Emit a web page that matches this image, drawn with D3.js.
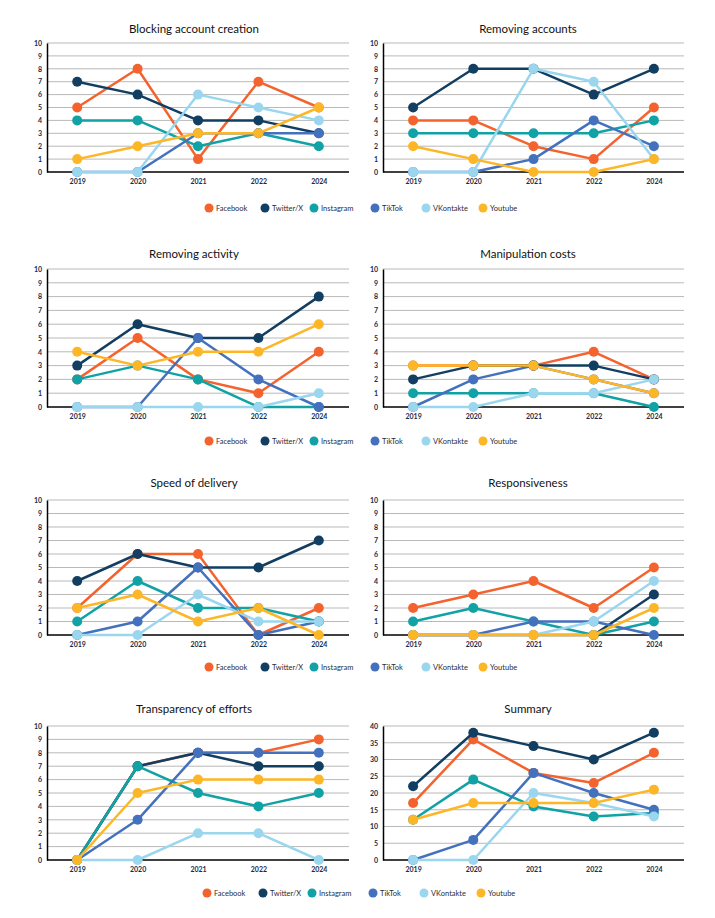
<!DOCTYPE html>
<html>
<head>
<meta charset="utf-8">
<script src="https://cdn.jsdelivr.net/npm/d3@7"></script>
<style>
  body { margin: 0; background: #fff; }
  svg { display: block; font-family: Lato, "Open Sans", sans-serif; }
</style>
</head>
<body>
<svg id="chart" width="715" height="918"></svg>
<script>
const years = ["2019", "2020", "2021", "2022", "2024"];
const platforms = ["Facebook", "Twitter/X", "Instagram", "TikTok", "VKontakte", "Youtube"];
const colors = ["#F4632E", "#123E61", "#11A2A5", "#4471BD", "#9AD7EF", "#FDB626"];

const titles = [
  "Blocking account creation", "Removing accounts",
  "Removing activity", "Manipulation costs",
  "Speed of delivery", "Responsiveness",
  "Transparency of efforts", "Summary"
];

// values per panel, one row per platform (same order as platforms)
const blocking = [[5, 8, 1, 7, 5], [7, 6, 4, 4, 3], [4, 4, 2, 3, 2], [0, 0, 3, 3, 3], [0, 0, 6, 5, 4], [1, 2, 3, 3, 5]];
const removingAccounts = [[4, 4, 2, 1, 5], [5, 8, 8, 6, 8], [3, 3, 3, 3, 4], [0, 0, 1, 4, 2], [0, 0, 8, 7, 1], [2, 1, 0, 0, 1]];
const removingActivity = [[2, 5, 2, 1, 4], [3, 6, 5, 5, 8], [2, 3, 2, 0, 0], [0, 0, 5, 2, 0], [0, 0, 0, 0, 1], [4, 3, 4, 4, 6]];
const manipulationCosts = [[3, 3, 3, 4, 2], [2, 3, 3, 3, 2], [1, 1, 1, 1, 0], [0, 2, 3, 2, 1], [0, 0, 1, 1, 2], [3, 3, 3, 2, 1]];
const speedOfDelivery = [[2, 6, 6, 0, 2], [4, 6, 5, 5, 7], [1, 4, 2, 2, 1], [0, 1, 5, 0, 1], [0, 0, 3, 1, 1], [2, 3, 1, 2, 0]];
const responsiveness = [[2, 3, 4, 2, 5], [0, 0, 0, 0, 3], [1, 2, 1, 0, 1], [0, 0, 1, 1, 0], [0, 0, 0, 1, 4], [0, 0, 0, 0, 2]];
const transparency = [[0, 7, 8, 8, 9], [0, 7, 8, 7, 7], [0, 7, 5, 4, 5], [0, 3, 8, 8, 8], [0, 0, 2, 2, 0], [0, 5, 6, 6, 6]];
const summary = [[17, 36, 26, 23, 32], [22, 38, 34, 30, 38], [12, 24, 16, 13, 14], [0, 6, 26, 20, 15], [0, 0, 20, 17, 13], [12, 17, 17, 17, 21]];

const panelData = [blocking, removingAccounts, removingActivity, manipulationCosts,
  speedOfDelivery, responsiveness, transparency, summary];
const yMax = [10, 10, 10, 10, 10, 10, 10, 40];
const yTicks = [d3.range(0, 11), d3.range(0, 11), d3.range(0, 11), d3.range(0, 11),
  d3.range(0, 11), d3.range(0, 11), d3.range(0, 11), d3.range(0, 41, 5)];

const svg = d3.select("#chart");

// layout
const cols = [{ left: 47, right: 349, titleX: 194 }, { left: 383, right: 684, titleX: 528 }];
const rows = [
  { top: 43, bottom: 172, titleY: 33, legendY: 208 },
  { top: 269, bottom: 407, titleY: 258, legendY: 441 },
  { top: 500, bottom: 635, titleY: 487, legendY: 667 },
  { top: 726, bottom: 860, titleY: 713, legendY: 893 }
];

panelData.forEach((data, i) => {
  const col = cols[i % 2];
  const row = rows[Math.floor(i / 2)];

  const x = d3.scalePoint().domain(years).range([col.left, col.right]).padding(0.5);
  const y = d3.scaleLinear().domain([0, yMax[i]]).range([row.bottom, row.top]);

  const g = svg.append("g");

  g.append("text")
    .attr("x", col.titleX)
    .attr("y", row.titleY)
    .attr("text-anchor", "middle")
    .attr("font-size", "11.5px")
    .attr("fill", "#111")
    .text(titles[i]);

  // grid
  g.append("g")
    .selectAll("line")
    .data(yTicks[i].filter(t => t > 0))
    .join("line")
    .attr("x1", col.left)
    .attr("x2", col.right)
    .attr("y1", d => y(d))
    .attr("y2", d => y(d))
    .attr("stroke", "#b9b9b9")
    .attr("stroke-width", 1);

  // y axis
  const yAxis = g.append("g")
    .attr("transform", `translate(${col.left},0)`)
    .call(d3.axisLeft(y).tickValues(yTicks[i]).tickSize(0).tickPadding(5));
  yAxis.select(".domain").attr("stroke", "#000").attr("stroke-width", 1.5);
  yAxis.selectAll("text")
    .attr("font-size", "7px")
    .attr("font-weight", "bold")
    .attr("fill", "#1b2b48")
    .attr("font-family", "Lato, sans-serif");

  // x axis
  const xAxis = g.append("g")
    .attr("transform", `translate(0,${row.bottom})`)
    .call(d3.axisBottom(x).tickSize(0).tickPadding(7).tickSizeOuter(0));
  xAxis.select(".domain").attr("stroke", "#000").attr("stroke-width", 1.5)
    .attr("d", `M${col.left},0H${col.right}`);
  xAxis.selectAll("text")
    .attr("font-size", "7px")
    .attr("font-weight", "bold")
    .attr("fill", "#1b2b48")
    .attr("font-family", "Lato, sans-serif");

  const line = d3.line()
    .x((d, j) => x(years[j]))
    .y(d => y(d));

  data.forEach((values, k) => {
    g.append("path")
      .datum(values)
      .attr("fill", "none")
      .attr("stroke", colors[k])
      .attr("stroke-width", 2.5)
      .attr("stroke-linejoin", "round")
      .attr("d", line);

    g.append("g")
      .selectAll("circle")
      .data(values)
      .join("circle")
      .attr("cx", (d, j) => x(years[j]))
      .attr("cy", d => y(d))
      .attr("r", 5)
      .attr("fill", colors[k]);
  });
});

// legends, one per row
const legendX = [209, 265, 314, 375, 426, 483];
rows.forEach((row, r) => {
  const lg = svg.append("g").attr("transform", `translate(${r === 3 ? -2 : 0},${row.legendY})`);
  const items = lg.selectAll("g")
    .data(platforms)
    .join("g")
    .attr("transform", (d, k) => `translate(${legendX[k]},0)`);
  items.append("circle")
    .attr("r", 4.5)
    .attr("fill", (d, k) => colors[k]);
  items.append("text")
    .attr("x", 7)
    .attr("y", 2.5)
    .attr("font-size", "7.5px")
    .attr("fill", "#2a2d3a")
    .text(d => d);
});
</script>
</body>
</html>
